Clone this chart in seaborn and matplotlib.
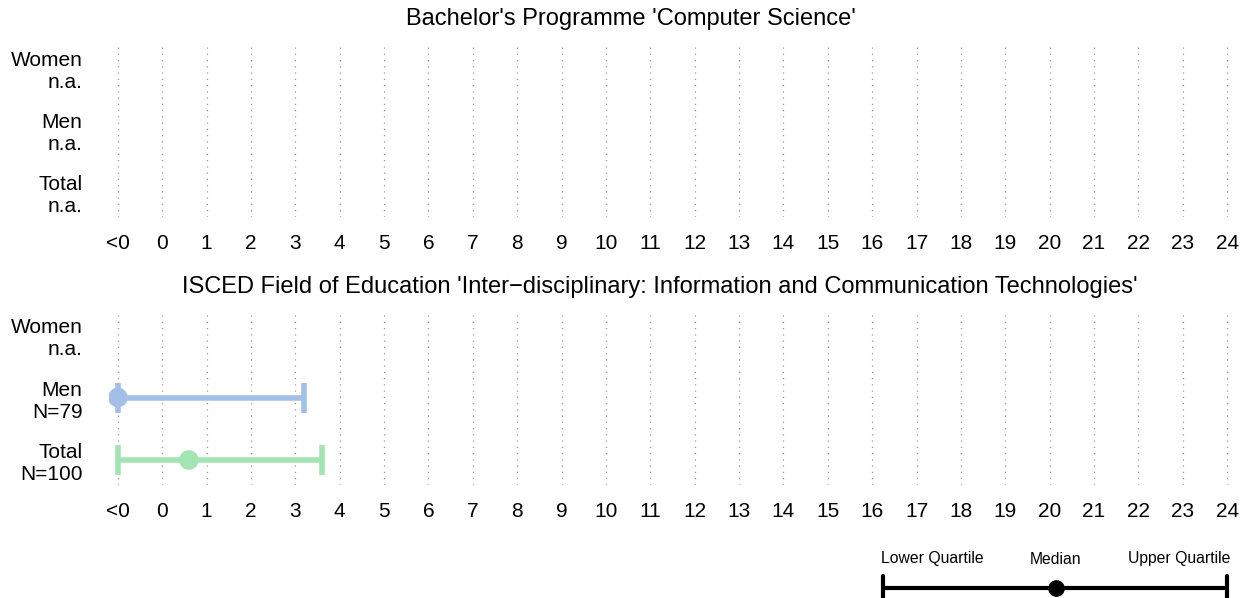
import numpy as np
import pandas as pd
import seaborn as sns
import matplotlib.pyplot as plt

# data
groups = ["Women", "Men", "Total"]
top_labels = ["Women\nn.a.", "Men\nn.a.", "Total\nn.a."]
bottom_labels = ["Women\nn.a.", "Men\nN=79", "Total\nN=100"]
tick_pos = list(range(-1, 25))
tick_labels = ["<0"] + [str(i) for i in range(0, 25)]

# bottom panel quartiles (-1 means "<0")
lower_q = [np.nan, -1.0, -1.0]
median_q = [np.nan, -1.0, 0.6]
upper_q = [np.nan, 3.2, 3.6]
colors = ["#f4a6a6", "#a3bfe8", "#a3e4b3"]

titles = ["Bachelor's Programme 'Computer Science'",
          "ISCED Field of Education 'Inter\u2212disciplinary: Information and Communication Technologies'"]

sns.set_style("white")
plt.rcParams['font.family'] = ['Liberation Sans', 'DejaVu Sans']
plt.rcParams['text.color'] = 'black'
plt.rcParams['xtick.color'] = 'black'
plt.rcParams['ytick.color'] = 'black'

W, H = 1252, 598
fig = plt.figure(figsize=(W / 100, H / 100), dpi=100)

# axes geometry in pixels
x_left, x_right = 109, 1236
panels = [(43, 217, top_labels, False, titles[0], 631, 19),
          (310, 485, bottom_labels, True, titles[1], 660, 287)]

df = pd.DataFrame({"group": groups, "row": [0, 1, 2],
                   "lower": lower_q, "median": median_q, "upper": upper_q})

for y_top, y_bot, ylabels, has_data, title, tx, ty in panels:
    ax = fig.add_axes([x_left / W, 1 - y_bot / H, (x_right - x_left) / W, (y_bot - y_top) / H])
    ax.set_xlim(-1.2, 24.2)
    ax.set_ylim(2.4, -0.4)
    for p in tick_pos:
        ax.axvline(p, color="#9a9a9a", linestyle=(0, (1, 4)), linewidth=0.9, zorder=0)
    if has_data:
        d = df.dropna()
        for _, r in d.iterrows():
            c = colors[int(r["row"])]
            ax.hlines(r["row"], r["lower"], r["upper"], color=c, linewidth=4, zorder=2)
            ax.vlines([r["lower"], r["upper"]], r["row"] - 0.24, r["row"] + 0.24,
                      color=c, linewidth=4, zorder=2)
        sns.scatterplot(data=d, x="median", y="row", hue="group",
                        palette={g: colors[i] for i, g in enumerate(groups)},
                        s=200, edgecolor="none", legend=False, ax=ax, zorder=3)
    ax.set_xticks(tick_pos)
    ax.set_xticklabels(tick_labels, fontsize=15)
    ax.set_yticks([0, 1, 2])
    ax.set_yticklabels(ylabels, fontsize=15, ha="right")
    ax.tick_params(axis="both", length=0)
    ax.tick_params(axis="x", pad=12.5)
    ax.tick_params(axis="y", pad=19)
    ax.set_xlabel("")
    ax.set_ylabel("")
    for s in ax.spines.values():
        s.set_visible(False)
    fig.text(tx / W, 1 - ty / H, title, ha="center", va="center", fontsize=17)

# legend key
lax = fig.add_axes([0, 0, 1, 1], facecolor="none")
lax.set_xlim(0, W)
lax.set_ylim(H, 0)
lax.axis("off")
lax.plot([883, 1227], [588, 588], color="black", linewidth=3)
lax.plot([883, 883], [576, 600], color="black", linewidth=3)
lax.plot([1227, 1227], [576, 600], color="black", linewidth=3)
lax.plot([1056], [588], "o", color="black", markersize=11)
lax.text(881, 559, "Lower Quartile", ha="left", va="center", fontsize=11.3)
lax.text(1056, 559, "Median", ha="center", va="center", fontsize=11.3)
lax.text(1230, 559, "Upper Quartile", ha="right", va="center", fontsize=11.3)

fig.savefig("out.png", dpi=100)
